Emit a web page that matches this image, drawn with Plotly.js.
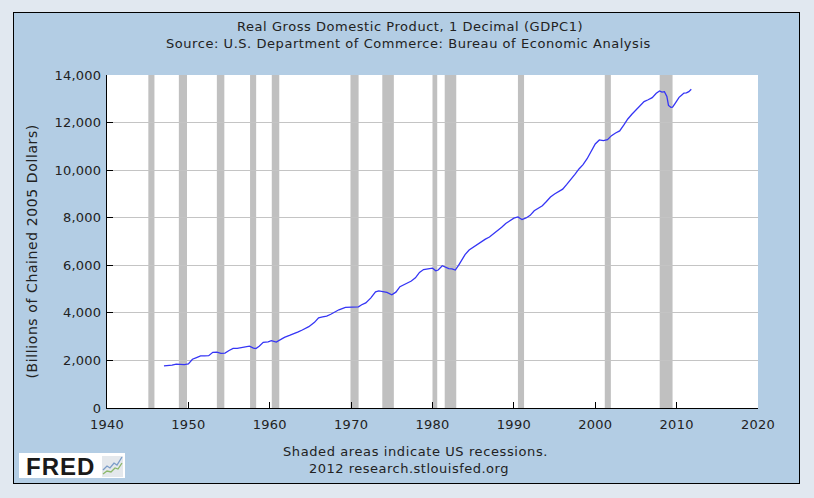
<!DOCTYPE html>
<html>
<head>
<meta charset="utf-8">
<script src="https://cdn.plot.ly/plotly-3.0.1.min.js"></script>
<style>
html,body{margin:0;padding:0;background:#e1e8f0;width:814px;height:498px;overflow:hidden;}
#panel{position:absolute;left:13px;top:12px;width:785px;height:470px;border:1px solid #000;background:#b3cde4;}
#chart{width:785px;height:470px;}
#chart .xtick text, #chart .ytick text{letter-spacing:0.25px;}
</style>
</head>
<body>
<div id="panel"><div id="chart"></div></div>
<script>
// Real GDP (billions of chained 2005 dollars)
const years = [1947.0,1947.5,1948.0,1948.5,1949.0,1949.5,1950.0,1950.5,1951.0,1951.5,1952.0,1952.5,1953.0,1953.5,1954.0,1954.5,1955.0,1955.5,1956.0,1956.5,1957.0,1957.5,1958.0,1958.3,1958.7,1959.2,1959.8,1960.2,1960.8,1961.3,1961.8,1962.5,1963.0,1963.5,1964.0,1964.8,1965.5,1966.0,1966.5,1967.0,1967.5,1968.0,1968.5,1969.3,1969.8,1970.3,1970.9,1971.3,1971.8,1972.4,1973.0,1973.4,1973.9,1974.4,1975.0,1975.5,1976.0,1976.8,1977.4,1977.9,1978.4,1978.9,1979.5,1980.0,1980.4,1980.7,1981.2,1981.6,1982.0,1982.4,1982.8,1983.2,1983.6,1984.0,1984.5,1985.0,1985.5,1986.0,1986.5,1987.0,1987.8,1988.5,1989.0,1989.5,1990.0,1990.5,1991.0,1991.5,1992.0,1992.5,1993.0,1993.5,1994.0,1994.5,1995.0,1995.5,1996.0,1996.5,1997.0,1997.5,1998.0,1998.5,1999.0,1999.5,2000.0,2000.5,2001.0,2001.5,2002.0,2002.5,2003.0,2003.5,2004.0,2004.5,2005.0,2005.5,2006.0,2006.5,2007.0,2007.5,2007.9,2008.2,2008.5,2008.8,2009.0,2009.3,2009.5,2009.8,2010.0,2010.3,2010.6,2010.9,2011.2,2011.5,2011.8];
const gdp = [1770,1775,1800,1845,1830,1825,1850,2050,2120,2190,2190,2200,2340,2350,2300,2310,2420,2510,2510,2530,2560,2600,2520,2500,2600,2760,2780,2830,2770,2860,2970,3060,3120,3200,3280,3420,3600,3790,3830,3860,3940,4030,4130,4230,4240,4230,4250,4340,4420,4620,4880,4920,4900,4860,4760,4870,5100,5220,5340,5470,5700,5820,5840,5880,5770,5800,5980,5930,5860,5850,5800,6000,6200,6450,6640,6760,6850,6970,7100,7190,7400,7600,7760,7860,7980,8030,7920,7990,8100,8290,8400,8500,8680,8870,9000,9090,9200,9400,9600,9820,10050,10230,10480,10760,11100,11270,11240,11280,11450,11560,11650,11890,12150,12350,12540,12700,12880,12960,13050,13230,13330,13280,13300,13100,12720,12640,12650,12800,12920,13060,13150,13240,13250,13300,13400];
// US recessions (decimal years)
const recStart = [1945.08,1948.83,1953.50,1957.58,1960.25,1969.92,1973.83,1980.00,1981.50,1990.50,2001.17,2007.92];
const recEnd   = [1945.83,1949.83,1954.42,1958.33,1961.17,1970.92,1975.25,1980.58,1982.92,1991.25,2001.92,2009.50];
const xTicks = [1940,1950,1960,1970,1980,1990,2000,2010,2020];
const yTicks = [0,2000,4000,6000,8000,10000,12000,14000];

const F = 'DejaVu Sans, Verdana, sans-serif';
const px = x => (x-107)/651, py = y => (408-y)/333;
const sp = (t,ls) => `<span style="letter-spacing:${ls}px">${t}</span>`;

const shapes = recStart.map((s,i)=>({type:'rect',xref:'x',yref:'paper',x0:s,x1:recEnd[i],y0:0,y1:1,fillcolor:'#c0c0c0',line:{width:0},layer:'below'}));
// FRED logo decoration
shapes.push({type:'rect',xref:'paper',yref:'paper',x0:px(19),x1:px(125),y0:py(478),y1:py(453),fillcolor:'#ffffff',line:{width:0}});
shapes.push({type:'rect',xref:'paper',yref:'paper',x0:px(102),x1:px(123),y0:py(477),y1:py(456),fillcolor:'#e4e8ec',line:{width:0}});
shapes.push({type:'path',xref:'paper',yref:'paper',path:`M ${px(103)} ${py(470)} L ${px(107)} ${py(466)} L ${px(110)} ${py(468)} L ${px(114)} ${py(463)} L ${px(117)} ${py(465)} L ${px(122)} ${py(457)}`,line:{color:'#7a9cc8',width:1.3}});
shapes.push({type:'path',xref:'paper',yref:'paper',path:`M ${px(103)} ${py(474)} L ${px(107)} ${py(471)} L ${px(111)} ${py(472)} L ${px(115)} ${py(468)} L ${px(118)} ${py(469)} L ${px(122)} ${py(463)}`,line:{color:'#8cb86a',width:1.3}});

const ann = [
 {text:sp('Real Gross Domestic Product, 1 Decimal (GDPC1)',0.55),x:px(410),y:py(26)},
 {text:sp('Source: U.S. Department of Commerce: Bureau of Economic Analysis',0.55),x:px(408),y:py(44)},
 {text:sp('Shaded areas indicate US recessions.',0.6),x:px(415),y:py(451)},
 {text:sp('2012 research.stlouisfed.org',0.5),x:px(409),y:py(468)},
 {text:sp('(Billions of Chained 2005 Dollars)',0.6),x:px(31.5),y:py(252),textangle:-90,font:{family:F,size:14,color:'#222'}}
].map(a=>Object.assign({xref:'paper',yref:'paper',showarrow:false,xanchor:'center',yanchor:'middle',font:{family:F,size:13,color:'#222'}},a));
ann.push({text:sp('<b>FRED</b>',1),x:px(60),y:py(466),xref:'paper',yref:'paper',showarrow:false,xanchor:'center',yanchor:'middle',font:{family:'Liberation Sans, Arial, sans-serif',size:24,color:'#1a1a1a'}});

const trace = {x:years,y:gdp,type:'scatter',mode:'lines',line:{color:'#3535f5',width:1.3},hoverinfo:'skip'};

const layout = {
 width:785,height:470,
 margin:{l:93,r:41,t:62,b:75},
 paper_bgcolor:'#b3cde4',plot_bgcolor:'#ffffff',
 showlegend:false,
 xaxis:{range:[1940,2020],tickvals:xTicks,ticktext:xTicks.map(String),ticks:'inside',ticklen:6,tickcolor:'#000',tickwidth:1,ticklabelstandoff:4,
   showgrid:false,zeroline:false,showline:true,linecolor:'#000',linewidth:1,mirror:false,
   tickfont:{family:F,size:13,color:'#222'}},
 yaxis:{range:[0,14000],tickvals:yTicks,ticktext:yTicks.map(v=>v.toLocaleString('en-US')),ticks:'inside',ticklen:6,tickcolor:'#000',tickwidth:1,ticklabelstandoff:2,
   showgrid:true,gridcolor:'#c4c4c4',gridwidth:1,zeroline:false,showline:true,linecolor:'#000',linewidth:1,
   tickfont:{family:F,size:13,color:'#222'}},
 shapes:shapes,annotations:ann
};
Plotly.newPlot('chart',[trace],layout,{staticPlot:true,displayModeBar:false});
</script>
</body>
</html>
